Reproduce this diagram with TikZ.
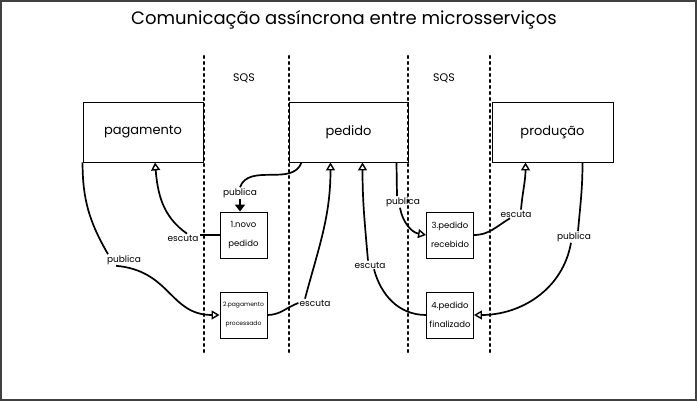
\documentclass[tikz,border=0pt]{standalone}
\usepackage{fontspec}
\setmainfont{Poppins}
\usetikzlibrary{arrows.meta}

\begin{document}
\begin{tikzpicture}[x=1pt, y=1pt,
		service/.style={draw, line width=0.9pt, minimum width=119pt, minimum height=60pt, font=\fontsize{13}{16}\selectfont},
		queue/.style={draw, line width=0.9pt, minimum width=47pt, minimum height=46pt, inner sep=0pt, align=center, font=\fontsize{8.5}{19}\selectfont},
		lbl/.style={inner sep=1pt, font=\fontsize{9}{10}\selectfont},
		flow/.style={line width=1.7pt},
		listen/.style={flow, -{Triangle[open, length=8pt, width=9pt, line width=1.4pt]}},
		lane/.style={line width=2.2pt, dash pattern=on 2pt off 4pt, line cap=round}]
			\useasboundingbox (0,0) rectangle (697,401);
			\draw[line width=1.2pt, black!75] (1,1) rectangle (696,400);
			\node[font=\fontsize{18}{20}\selectfont] (title) at (344,381) {Comunicação assíncrona entre microsserviços};
			\node[font=\fontsize{11}{12}\selectfont] (sqs1) at (244,323) {SQS};
			\node[font=\fontsize{11}{12}\selectfont] (sqs2) at (444,323) {SQS};
			\foreach \x in {204,289,408,490}{
				\draw[lane] (\x,49) -- (\x,348);
			}
			\node[service, minimum width=120pt] (pag) at (143,269) {pagamento};
			\node[service] (ped) at (348.5,269) {pedido};
			\node[service, minimum width=121pt] (prod) at (552.5,269) {produção};
			\node[queue] (q1) at (243.5,166) {1.novo\\pedido};
			\node[queue, font=\fontsize{6}{19}\selectfont] (q2) at (243.5,86) {2.pagamento\\processado};
			\node[queue] (q3) at (450,166) {3.pedido\\recebido};
			\node[queue] (q4) at (450,86) {4.pedido\\finalizado};
			\node[lbl] (pub1) at (240,208) {publica};
			\node[lbl] (esc1) at (183,163) {escuta};
			\node[lbl] (pub2) at (124,141) {publica};
			\node[lbl] (esc2) at (315,98) {escuta};
			\node[lbl] (pub3) at (403,199) {publica};
			\node[lbl] (esc3) at (516,187) {escuta};
			\node[lbl] (pub4) at (574,164) {publica};
			\node[lbl] (esc4) at (370,136) {escuta};
			% pedido -> fila 1
			\draw[flow] ([xshift=13pt]ped.south west) to[out=-110, in=70] (pub1.north);
			\draw[flow, -{Triangle[length=7pt, width=10pt]}] (pub1.south) -- (pub1.south |- q1.north);
			\draw[flow] (q1.west) -- ([yshift=3pt]esc1.east);
			\draw[listen] ([xshift=4pt]esc1.north) to[out=145, in=-85] ([xshift=12pt]pag.south);
			% pagamento -> fila 2
			\draw[flow] (pag.south west) to[out=-90, in=120] ([xshift=-16pt]pub2.north);
			\draw[listen] ([xshift=-8pt]pub2.south) .. controls +(55,-5) and +(-50,0) .. (q2.west);
			\draw[flow] (q2.east) to[out=0, in=200] (esc2.west);
			\draw[listen] ([xshift=-10pt]esc2.north) to[out=75, in=-90] ([xshift=-18pt]ped.south);
			% pedido -> fila 3
			\draw[flow] ([xshift=48pt]ped.south) -- ([xshift=-6pt]pub3.north);
			\draw[listen] ([xshift=-3pt]pub3.south) to[out=-80, in=170] (q3.west);
			\draw[flow] (q3.east) to[out=0, in=-150] ([xshift=-6pt]esc3.south);
			\draw[listen] ([xshift=5pt]esc3.north) to[out=85, in=-90] ([xshift=-27pt]prod.south);
			% producao -> fila 4
			\draw[flow] ([xshift=30pt]prod.south) to[out=-90, in=85] ([xshift=4pt]pub4.north);
			\draw[listen] ([xshift=-3pt]pub4.south) to[out=-100, in=0] (q4.east);
			\draw[flow] (q4.west) to[out=180, in=-75] ([xshift=4pt]esc4.south);
			\draw[listen] ([xshift=-2pt]esc4.north) to[out=95, in=-90] ([xshift=14pt]ped.south);
		\end{tikzpicture}
\end{document}
